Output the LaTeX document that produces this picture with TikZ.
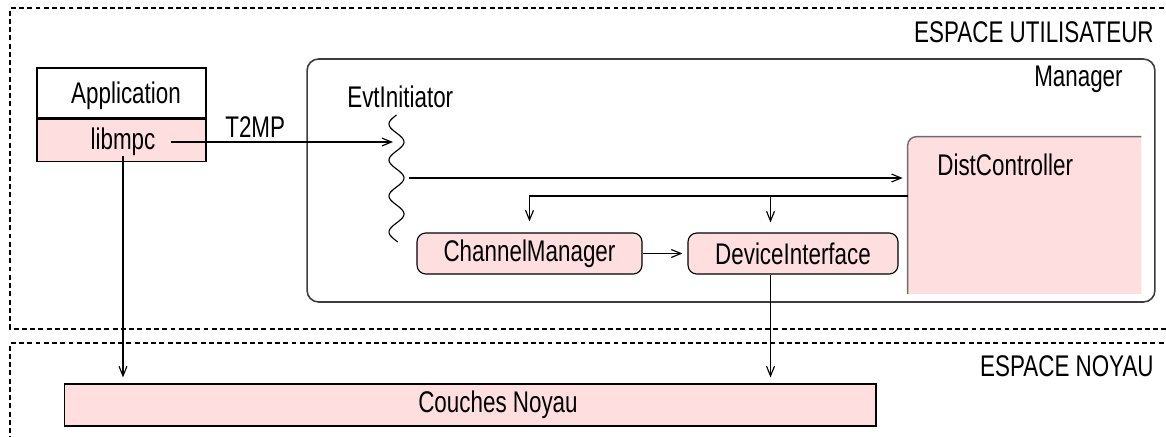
\documentclass[tikz,border=0pt]{standalone}
\usepackage{fontspec}
\setmainfont{Liberation Sans}[FakeStretch=0.75]
\usetikzlibrary{arrows.meta}

\definecolor{bloc}{RGB}{255,222,224}
\definecolor{cadre}{RGB}{60,60,60}

\begin{document}
\begin{tikzpicture}[
        x=0.02cm, y=-0.02cm,
        >={Straight Barb[length=5.5pt,width=4.5pt]},
        every node/.style={font=\fontsize{17}{20}\selectfont, inner sep=0pt},
        lien/.style={line width=0.65pt},
        zone/.style={line width=0.6pt, dash pattern=on 2.8pt off 1.9pt},
        bloc/.style={draw, line width=0.65pt, fill=bloc},
        module/.style={bloc, rounded corners=5pt, minimum height=0.82cm},
    ]

\useasboundingbox (0,0) rectangle (1166,436);
\clip (0,0) rectangle (1166,436);

% espaces
\draw[zone] (1180,8) -- (10,8) -- (10,329) -- (1180,329);
\draw[zone] (1180,343) -- (10,343) -- (10,450);
\node[anchor=east] (user) at (1154,32) {ESPACE UTILISATEUR};
\node[anchor=east] (noyau) at (1154,366) {ESPACE NOYAU};

% manager
\node[draw=cadre, line width=0.9pt, rounded corners=6.5pt,
      minimum width=16.96cm, minimum height=4.86cm] (manager) at (731,180.5) {};
\node[anchor=east] (mgrlabel) at (1123,79) {Manager};

% application
\node[draw, line width=0.65pt, minimum width=3.38cm, minimum height=1cm] (app) at (121.5,93) {};
\node (apptxt) at (126,96) {Application};
\node[bloc, minimum width=3.38cm, minimum height=0.84cm, anchor=north] (lib) at (app.south) {};
\node (libmpc) at (123,142) {libmpc};

% distcontroller, ouvert a droite et en bas
\node[minimum width=4.66cm, minimum height=3.12cm] (dist) at (1024.5,215) {};
\begin{scope}
    \clip ([xshift=-1pt]dist.south west) rectangle ([yshift=1pt]dist.north east);
    \filldraw[fill=bloc, draw=cadre!75, line width=0.8pt, rounded corners=5pt]
        ([yshift=-10pt]dist.south west) rectangle ([xshift=10pt]dist.north east);
\end{scope}
\node[anchor=west] (distlabel) at (937,165) {DistController};

\node[module, minimum width=4.5cm] (chan) at (529.5,253.5) {ChannelManager};
\node[module, minimum width=4.2cm] (dev) at (793,253.5) {DeviceInterface};
\node[bloc, minimum width=16.24cm, minimum height=0.84cm] (couches) at (470,405) {};
\node (couchestxt) at (498,405) {Couches Noyau};

% evtinitiator
\node[anchor=west] (evtlabel) at (347,97) {EvtInitiator};
\draw[lien] plot[domain=115:242, samples=90, smooth] ({396.5+7.5*cos(10*(\x-142))}, \x);
\coordinate (evtin) at (393,142);
\coordinate (evtout) at (409,178);
\coordinate (distout) at (908,196);
\coordinate (devx) at ([xshift=-0.45cm]dev.north);
\coordinate (devy) at ([xshift=-0.45cm]dev.south);

\draw[lien,->] ([xshift=0.3cm]libmpc.east) -- node[pos=0.38, above=2.5pt] (t2mp) {T2MP} (evtin);
\draw[lien,->,shorten >=0.1cm] (evtout) -- (evtout -| dist.west);
\draw[lien,->,shorten >=0.22cm] (distout) -| (chan.north);
\draw[lien,->,shorten >=0.2cm] (distout -| devx) -- (devx);
\draw[lien,->,shorten >=0.1cm] (chan) -- (dev);
\draw[lien,->,shorten >=0.12cm] (devy) -- (devy |- couches.north);
\draw[lien,->,shorten >=0.12cm] (libmpc.south) -- (libmpc.south |- couches.north);

\end{tikzpicture}
\end{document}
